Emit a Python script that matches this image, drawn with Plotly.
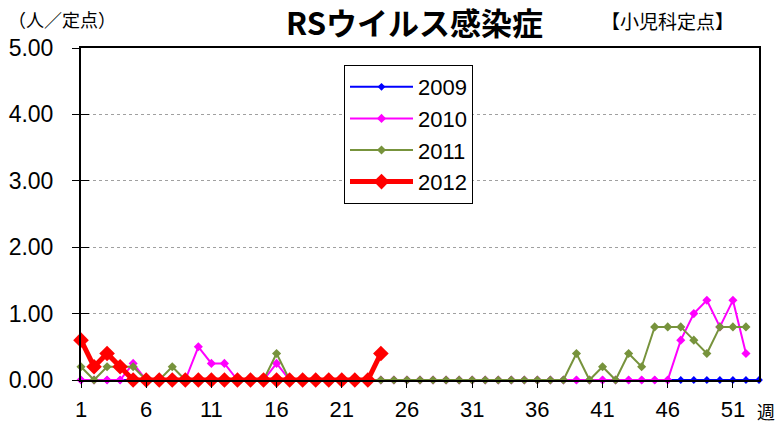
import plotly.graph_objects as go

weeks_2009 = list(range(1, 54))
weeks_52 = list(range(1, 53))
weeks_2012 = list(range(1, 25))

series_names = ["2009", "2010", "2011", "2012"]

v2009 = [0, 0, 0, 0, 0, 0, 0, 0, 0, 0,
         0, 0, 0, 0, 0, 0, 0, 0, 0, 0,
         0, 0, 0, 0, 0, 0, 0, 0, 0, 0,
         0, 0, 0, 0, 0, 0, 0, 0, 0, 0,
         0, 0, 0, 0, 0, 0, 0, 0, 0, 0,
         0, 0, 0]
v2010 = [0, 0, 0, 0, 0.25, 0, 0, 0, 0, 0.5,
         0.25, 0.25, 0, 0, 0, 0.25, 0, 0, 0, 0,
         0, 0, 0, 0, 0, 0, 0, 0, 0, 0,
         0, 0, 0, 0, 0, 0, 0, 0, 0, 0,
         0, 0, 0, 0, 0, 0, 0.6, 1.0, 1.2, 0.8,
         1.2, 0.4]
v2011 = [0.2, 0, 0.2, 0.2, 0.2, 0, 0, 0.2, 0, 0,
         0, 0, 0, 0, 0, 0.4, 0, 0, 0, 0,
         0, 0, 0, 0, 0, 0, 0, 0, 0, 0,
         0, 0, 0, 0, 0, 0, 0, 0, 0.4, 0,
         0.2, 0, 0.4, 0.2, 0.8, 0.8, 0.8, 0.6, 0.4, 0.8,
         0.8, 0.8]
v2012 = [0.6, 0.2, 0.4, 0.2, 0, 0, 0, 0, 0, 0,
         0, 0, 0, 0, 0, 0, 0, 0, 0, 0,
         0, 0, 0, 0.4]

x_tickvals = [1, 6, 11, 16, 21, 26, 31, 36, 41, 46, 51]
y_tickvals = [0, 1, 2, 3, 4, 5]
y_ticktext = ["0.00", "1.00", "2.00", "3.00", "4.00", "5.00"]

NUM_FONT = "Liberation Sans, Arial, sans-serif"
JP_FONT = "Noto Sans CJK JP, sans-serif"

fig = go.Figure()

styles = [
    (weeks_2009, v2009, "#0000FF", 2, 6),
    (weeks_52, v2010, "#FF00FF", 2, 7),
    (weeks_52, v2011, "#77933C", 2, 7),
    (weeks_2012, v2012, "#FF0000", 5, 12),
]
for name, (xs, ys, col, lw, ms) in zip(series_names, styles):
    fig.add_trace(go.Scatter(
        x=xs, y=ys, name=name, mode="lines+markers",
        line=dict(color=col, width=lw),
        marker=dict(symbol="diamond", size=ms, color=col),
        cliponaxis=False,
    ))

# overlay axis just to draw the inner half of the y ticks
fig.add_trace(go.Scatter(x=[None], y=[None], yaxis="y2", showlegend=False,
                         hoverinfo="skip"))

fig.update_layout(
    width=777, height=425,
    margin=dict(l=81, r=18, t=48, b=45),
    paper_bgcolor="white", plot_bgcolor="white",
    showlegend=True,
    legend=dict(
        x=(344 - 81) / 678, y=(380 - 65) / 332, xanchor="left", yanchor="top",
        bgcolor="white", bordercolor="black", borderwidth=1,
        font=dict(family=NUM_FONT, size=22, color="black"),
        tracegroupgap=0, itemwidth=63,
    ),
    xaxis=dict(
        range=[1, 53], tickvals=x_tickvals, automargin=False,
        ticks="outside", ticklen=6, tickcolor="black", tickwidth=1,
        showline=True, linecolor="black", linewidth=2, mirror=True,
        showgrid=False, zeroline=False,
        tickfont=dict(family=NUM_FONT, size=22, color="black"),
        ticklabelstandoff=3,
    ),
    yaxis=dict(
        range=[0, 5], tickvals=y_tickvals, ticktext=y_ticktext, automargin=False,
        ticks="outside", ticklen=7, tickcolor="black", tickwidth=1,
        showline=True, linecolor="black", linewidth=2, mirror=True,
        showgrid=True, gridcolor="#A0A0A0", gridwidth=1, griddash="dot",
        zeroline=False,
        tickfont=dict(family=NUM_FONT, size=23, color="black"),
        ticklabelstandoff=14,
    ),
    yaxis2=dict(
        range=[0, 5], tickvals=y_tickvals, overlaying="y", side="left",
        automargin=False,
        ticks="inside", ticklen=8, tickcolor="black", tickwidth=1,
        showticklabels=False, showgrid=False, zeroline=False, showline=False,
    ),
    annotations=[
        dict(text="（人／定点）", xref="paper", yref="paper",
             x=(6 - 81) / 678, y=(380 - 19) / 332, xanchor="left", yanchor="middle",
             showarrow=False, font=dict(family=JP_FONT, size=18, color="black")),
        dict(text="<b>RSウイルス感染症</b>", xref="paper", yref="paper",
             x=(414 - 81) / 678, y=(380 - 22) / 332, xanchor="center", yanchor="middle",
             showarrow=False, font=dict(family=JP_FONT, size=31, color="black")),
        dict(text="【小児科定点】", xref="paper", yref="paper",
             x=(667 - 81) / 678, y=(380 - 20) / 332, xanchor="center", yanchor="middle",
             showarrow=False, font=dict(family=JP_FONT, size=19, color="black")),
        dict(text="週", xref="paper", yref="paper",
             x=(766 - 81) / 678, y=(380 - 411) / 332, xanchor="center", yanchor="middle",
             showarrow=False, font=dict(family=JP_FONT, size=18, color="black")),
    ],
)

# remove the default page margin so the 777x425 figure fills the window exactly
fig.write_html("out.html",
               config={"displayModeBar": False},
               post_script="document.body.style.margin='0';document.body.style.overflow='hidden';")
